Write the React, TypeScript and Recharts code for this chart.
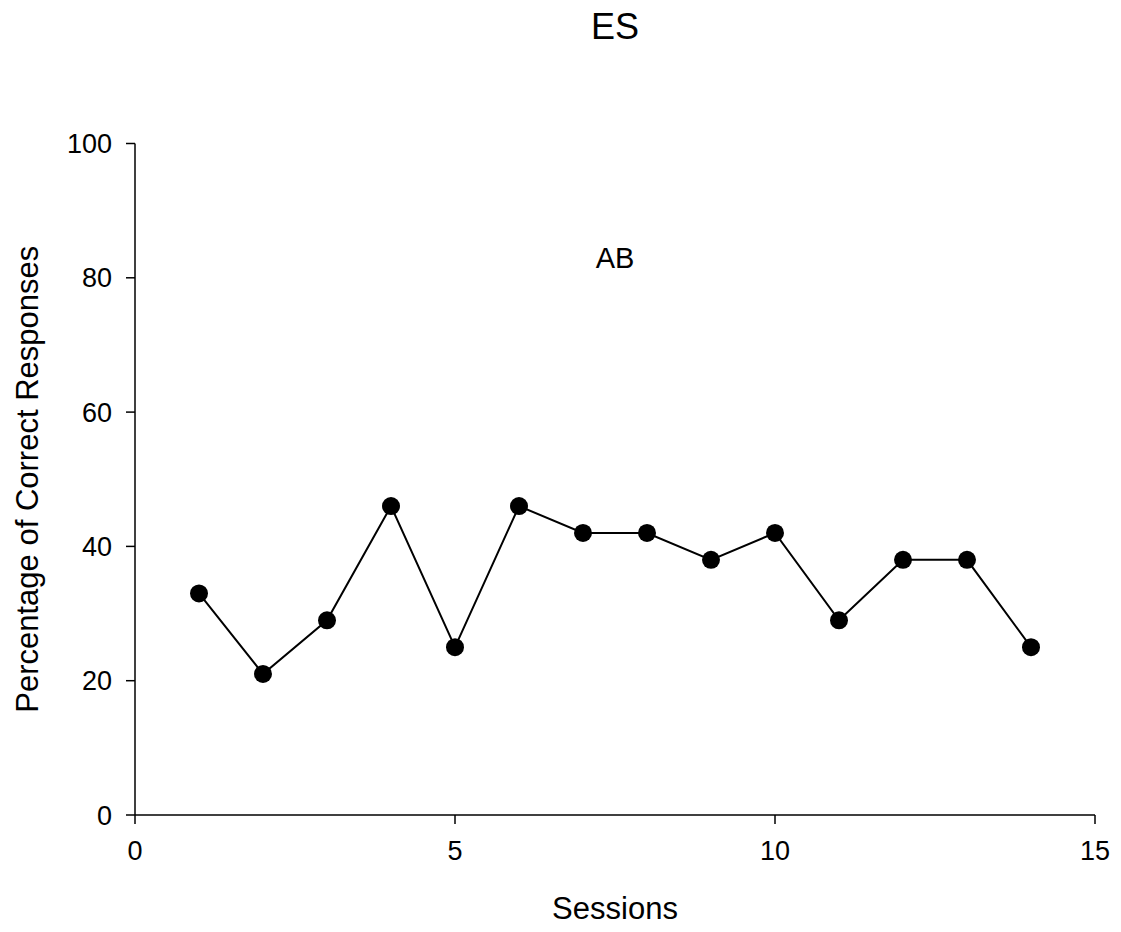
import React from 'react';
import {
  LineChart,
  Line,
  XAxis,
  YAxis,
  ReferenceDot,
  Label,
} from 'recharts';

const sessions = [1, 2, 3, 4, 5, 6, 7, 8, 9, 10, 11, 12, 13, 14];
const correctPct = [33, 21, 29, 46, 25, 46, 42, 42, 38, 42, 29, 38, 38, 25];
const xTicks = [0, 5, 10, 15];
const yTicks = [0, 20, 40, 60, 80, 100];
const phaseLabels = [{ x: 7.5, y: 83, text: 'AB' }];

const data = sessions.map((s, i) => ({ session: s, pct: correctPct[i] }));

const FONT = '"Liberation Sans", Arial, Helvetica, sans-serif';

const App: React.FC = () => {
  return (
    <div
      style={{
        position: 'absolute',
        left: 0,
        top: 0,
        width: 1121,
        height: 932,
        background: '#fff',
        fontFamily: FONT,
      }}
    >
      <div
        style={{
          position: 'absolute',
          left: 135,
          width: 960,
          top: 9,
          textAlign: 'center',
          fontSize: 36,
          lineHeight: '36px',
          color: '#000',
        }}
      >
        ES
      </div>
      <LineChart
        width={1121}
        height={932}
        data={data}
        margin={{ top: 143.5, right: 26, bottom: 0, left: 0 }}
        style={{ fontFamily: FONT }}
      >
        <XAxis
          dataKey="session"
          type="number"
          domain={[0, 15]}
          ticks={xTicks}
          interval={0}
          height={117}
          tickSize={9}
          tickMargin={17}
          axisLine={{ stroke: '#000', strokeWidth: 1.5 }}
          tickLine={{ stroke: '#000', strokeWidth: 1.5 }}
          tick={{ fontSize: 27, fill: '#000' }}
        >
          <Label
            content={({ viewBox }: any) => (
              <text
                x={viewBox.x + viewBox.width / 2}
                y={viewBox.y + 93}
                textAnchor="middle"
                dominantBaseline="central"
                fontSize={31}
                fill="#000"
              >
                Sessions
              </text>
            )}
          />
        </XAxis>
        <YAxis
          type="number"
          domain={[0, 100]}
          ticks={yTicks}
          interval={0}
          width={135}
          tickSize={9}
          tickMargin={14}
          axisLine={{ stroke: '#000', strokeWidth: 1.5 }}
          tickLine={{ stroke: '#000', strokeWidth: 1.5 }}
          tick={{ fontSize: 27, fill: '#000' }}
        >
          <Label
            content={({ viewBox }: any) => {
              const cx = 27;
              const cy = viewBox.y + viewBox.height / 2;
              return (
                <text
                  x={cx}
                  y={cy}
                  transform={`rotate(-90 ${cx} ${cy})`}
                  textAnchor="middle"
                  dominantBaseline="central"
                  fontSize={31}
                  fill="#000"
                >
                  Percentage of Correct Responses
                </text>
              );
            }}
          />
        </YAxis>
        {phaseLabels.map((p) => (
          <ReferenceDot
            key={p.text}
            x={p.x}
            y={p.y}
            r={0}
            fill="none"
            stroke="none"
            label={{ value: p.text, position: 'center', fontSize: 29, fill: '#000' }}
          />
        ))}
        <Line
          type="linear"
          dataKey="pct"
          stroke="#000"
          strokeWidth={2}
          dot={{ r: 9, fill: '#000', stroke: '#000', strokeWidth: 0 }}
          activeDot={false}
          isAnimationActive={false}
        />
      </LineChart>
    </div>
  );
};

export default App;
